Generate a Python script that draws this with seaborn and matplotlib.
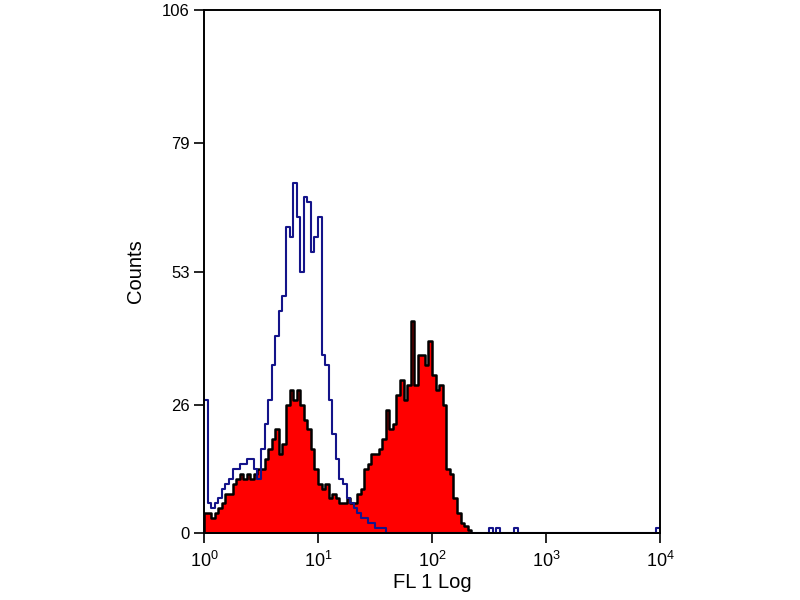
import numpy as np
import pandas as pd
import matplotlib
matplotlib.use('Agg')
import matplotlib.pyplot as plt
import seaborn as sns

# 128 channels over 4 decades (log10 units 0..4)
n_bins = 128
edges = np.linspace(0, 4, n_bins + 1)
centers = (edges[:-1] + edges[1:]) / 2

# unstained control (blue outline), channels 0..50
blue_counts = [27, 6, 5, 6, 7, 9, 10, 11, 13, 13,
               14, 14, 15, 15, 13, 11, 17, 22, 27, 34,
               40, 45, 48, 62, 60, 71, 64, 53, 68, 67,
               57, 60, 64, 36, 34, 27, 20, 15, 11, 10,
               7, 6, 5, 4, 3, 3, 2, 2, 1, 1, 1]
# stray events further right
blue_blip_log = [2.53, 2.58, 2.72, 3.99]
blue_blip_counts = [1, 1, 1, 1]

# stained sample (red fill), channels 0..74
red_counts = [4, 4, 3, 4, 5, 6, 8, 8, 10, 11,
              12, 11, 12, 11, 12, 13, 13, 15, 17, 19,
              21, 16, 18, 26, 29, 27, 29, 26, 23, 21,
              17, 13, 10, 9, 10, 7, 8, 7, 6, 6,
              7, 6, 6, 8, 9, 13, 14, 16, 16, 17,
              19, 25, 21, 22, 28, 31, 27, 30, 43, 30,
              36, 36, 34, 39, 32, 29, 30, 26, 13, 12,
              7, 4, 2, 1.5, 0.6]

y_ticks = [0, 26, 53, 79, 106]
x_ticks = [0, 1, 2, 3, 4]
x_labels = [r'$\mathregular{10^{%d}}$' % k for k in x_ticks]

red_df = pd.DataFrame({'fl1': centers[:len(red_counts)], 'n': red_counts})
blue_df = pd.DataFrame({'fl1': list(centers[:len(blue_counts)]) + blue_blip_log,
                        'n': blue_counts + blue_blip_counts})

sns.set_style('ticks')
plt.rcParams['font.family'] = ['Liberation Sans', 'DejaVu Sans']
plt.rcParams['mathtext.fontset'] = 'custom'
plt.rcParams['mathtext.rm'] = 'Liberation Sans'
plt.rcParams['text.color'] = 'black'
plt.rcParams['axes.labelcolor'] = 'black'

fig = plt.figure(figsize=(8, 6), dpi=100)
ax = fig.add_axes([0.255, 0.1117, 0.57, 0.8716])

sns.histplot(data=red_df, x='fl1', weights='n', bins=edges.tolist(),
             element='step', fill=True, color='#ff0000', alpha=1,
             edgecolor='black', linewidth=1.8, ax=ax)
sns.histplot(data=blue_df, x='fl1', weights='n', bins=edges.tolist(),
             element='step', fill=False, color='#14148a', linewidth=1.5, ax=ax)

ax.set_xlim(0, 4)
ax.set_ylim(0, 106)
ax.set_xticks(x_ticks)
ax.set_xticklabels(x_labels)
ax.set_yticks(y_ticks)
ax.tick_params(direction='out', length=7, width=1.2, labelsize=12, colors='black')
ax.tick_params(axis='x', pad=6, labelsize=13)
for s in ax.spines.values():
    s.set_visible(True)
    s.set_linewidth(1.4)
    s.set_color('black')
ax.set_xlabel('FL 1 Log', fontsize=14.5, labelpad=1)
ax.set_ylabel('Counts', fontsize=14.5, labelpad=12)

fig.savefig('out.png', dpi=100)
